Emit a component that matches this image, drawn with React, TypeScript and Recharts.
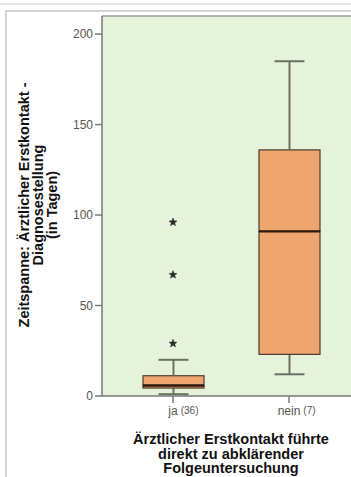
import React from 'react';
import { ComposedChart, Bar, Line, XAxis, YAxis, CartesianGrid, ReferenceLine } from 'recharts';

const categories = ['ja', 'nein'];
const groupSizes = [36, 7];
const whiskerLow = [1, 12];
const quartile1 = [4.4, 23];
const medians = [5.8, 91];
const quartile3 = [11.2, 136];
const whiskerHigh = [20, 185];
const outlierA: (number | null)[] = [96, null];
const outlierB: (number | null)[] = [67, null];
const outlierC: (number | null)[] = [29, null];
const yTicks = [0, 50, 100, 150, 200];
const yTitle = ['Zeitspanne: Ärztlicher Erstkontakt -', 'Diagnosestellung', '(in Tagen)'];
const xTitle = ['Ärztlicher Erstkontakt führte', 'direkt zu abklärender', 'Folgeuntersuchung'];

const data = categories.map((c, i) => ({
  cat: c,
  base: whiskerLow[i],
  lowWhisk: quartile1[i] - whiskerLow[i],
  lowBox: medians[i] - quartile1[i],
  highBox: quartile3[i] - medians[i],
  highWhisk: whiskerHigh[i] - quartile3[i],
  o1: outlierA[i],
  o2: outlierB[i],
  o3: outlierC[i],
}));

const FONT = '"Liberation Sans", Arial, Helvetica, sans-serif';
const BG = '#e5f3db';
const BOX = '#eea56e';
const BOX_STROKE = '#4d3a2b';
const MEDIAN = '#2e1a0e';
const WHISK = '#6b7062';
const AXIS = '#7a7a7a';

const measure = (t: string, font: string) => {
  try {
    const ctx = document.createElement('canvas').getContext('2d');
    if (ctx) {
      ctx.font = font;
      return ctx.measureText(t).width;
    }
  } catch (e) {}
  return t.length * 6.5;
};

const Empty = () => <g />;

const makeWhisker = (capTop: boolean) => (props: any) => {
  const { x, y, width, height } = props;
  if (x == null || y == null) return <g />;
  const cx = x + width / 2;
  const capY = capTop ? y : y + height;
  return (
    <g>
      <line x1={cx} x2={cx} y1={y} y2={y + height} stroke={WHISK} strokeWidth={2} />
      <line x1={cx - 15} x2={cx + 15} y1={capY} y2={capY} stroke={WHISK} strokeWidth={2} />
    </g>
  );
};

const LowBox = (props: any) => {
  const { x, y, width, height } = props;
  return <rect x={x} y={y} width={width} height={height} fill={BOX} stroke={BOX_STROKE} strokeWidth={1.2} />;
};

const HighBox = (props: any) => {
  const { x, y, width, height } = props;
  return (
    <g>
      <rect x={x} y={y} width={width} height={height} fill={BOX} stroke={BOX_STROKE} strokeWidth={1.2} />
      <line x1={x} x2={x + width} y1={y + height} y2={y + height} stroke={MEDIAN} strokeWidth={2.4} />
    </g>
  );
};

const StarDot = (props: any) => {
  const { cx, cy } = props;
  if (cx == null || cy == null || isNaN(cy)) return <g />;
  const pts: string[] = [];
  for (let k = 0; k < 10; k++) {
    const r = k % 2 === 0 ? 4.2 : 1.8;
    const a = -Math.PI / 2 + (k * Math.PI) / 5;
    pts.push(`${cx + r * Math.cos(a)},${cy + r * Math.sin(a)}`);
  }
  return <polygon points={pts.join(' ')} fill="#2a2a2a" stroke="#2a2a2a" strokeWidth={0.5} />;
};

const XTick = (props: any) => {
  const { x, y, payload } = props;
  const word = String(payload.value);
  const idx = categories.indexOf(word);
  const n = idx >= 0 ? groupSizes[idx] : '';
  const w = measure(word, `12px ${FONT}`);
  return (
    <g>
      <text x={x} y={y + 1} dy="0.71em" textAnchor="middle" fontSize={12} fill="#555" fontFamily={FONT}>
        {word}
      </text>
      <text x={x + w / 2 + 3} y={y + 1.5} dy="0.71em" textAnchor="start" fontSize={10} fill="#555" fontFamily={FONT}>
        ({n})
      </text>
    </g>
  );
};

export default function App() {
  return (
    <div style={{ position: 'absolute', left: 0, top: 0, width: 351, height: 477, overflow: 'hidden', background: '#fff' }}>
      <svg width={351} height={477} style={{ position: 'absolute', left: 0, top: 0 }}>
        <line x1={0} x2={351} y1={4} y2={4} stroke="#e4e4e4" strokeWidth={2} />
        <line x1={6} x2={351} y1={11} y2={11} stroke="#d6d6d6" strokeWidth={2} />
        <line x1={6} x2={6} y1={10} y2={477} stroke="#d6d6d6" strokeWidth={2} />
      </svg>
      <div style={{ position: 'absolute', left: 0, top: 0 }}>
        <ComposedChart width={351} height={477} data={data} margin={{ top: 16, right: 0, bottom: 0, left: 0 }}>
          <CartesianGrid horizontal={false} vertical={false} fill={BG} fillOpacity={1} stroke="none" />
          <ReferenceLine y={210} stroke="#9c9c9c" strokeWidth={1.5} />
          <XAxis
            dataKey="cat"
            type="category"
            allowDuplicatedCategory={false}
            padding={{ left: 13, right: 4 }}
            height={81}
            tickSize={7}
            tickMargin={2}
            tick={<XTick />}
            axisLine={{ stroke: AXIS, strokeWidth: 1.5 }}
            tickLine={{ stroke: AXIS, strokeWidth: 1.5 }}
          />
          <YAxis
            type="number"
            domain={[0, 210]}
            ticks={yTicks}
            width={102}
            tickSize={7}
            tickMargin={2}
            interval={0}
            tick={{ fontSize: 12, fill: '#555', fontFamily: FONT }}
            axisLine={{ stroke: AXIS, strokeWidth: 1.5 }}
            tickLine={{ stroke: AXIS, strokeWidth: 1.5 }}
          />
          <Bar dataKey="base" stackId="b" barSize={61} shape={<Empty />} isAnimationActive={false} />
          <Bar dataKey="lowWhisk" stackId="b" barSize={61} shape={makeWhisker(false)} isAnimationActive={false} />
          <Bar dataKey="lowBox" stackId="b" barSize={61} shape={LowBox} isAnimationActive={false} />
          <Bar dataKey="highBox" stackId="b" barSize={61} shape={HighBox} isAnimationActive={false} />
          <Bar dataKey="highWhisk" stackId="b" barSize={61} shape={makeWhisker(true)} isAnimationActive={false} />
          <Line dataKey="o1" stroke="none" dot={<StarDot />} activeDot={false} isAnimationActive={false} />
          <Line dataKey="o2" stroke="none" dot={<StarDot />} activeDot={false} isAnimationActive={false} />
          <Line dataKey="o3" stroke="none" dot={<StarDot />} activeDot={false} isAnimationActive={false} />
        </ComposedChart>
      </div>
      <svg width={351} height={477} style={{ position: 'absolute', left: 0, top: 0, pointerEvents: 'none' }}>
        {yTitle.map((t, i) => (
          <text
            key={t}
            x={0}
            y={0}
            transform={`translate(${29 + i * 14}, 205) rotate(-90)`}
            textAnchor="middle"
            fontSize={14.5}
            fontWeight="bold"
            fill="#111"
            fontFamily={FONT}
          >
            {t}
          </text>
        ))}
        {xTitle.map((t, i) => (
          <text
            key={t}
            x={231}
            y={444 + i * 14.5}
            textAnchor="middle"
            fontSize={14.5}
            fontWeight="bold"
            fill="#111"
            fontFamily={FONT}
          >
            {t}
          </text>
        ))}
      </svg>
    </div>
  );
}
